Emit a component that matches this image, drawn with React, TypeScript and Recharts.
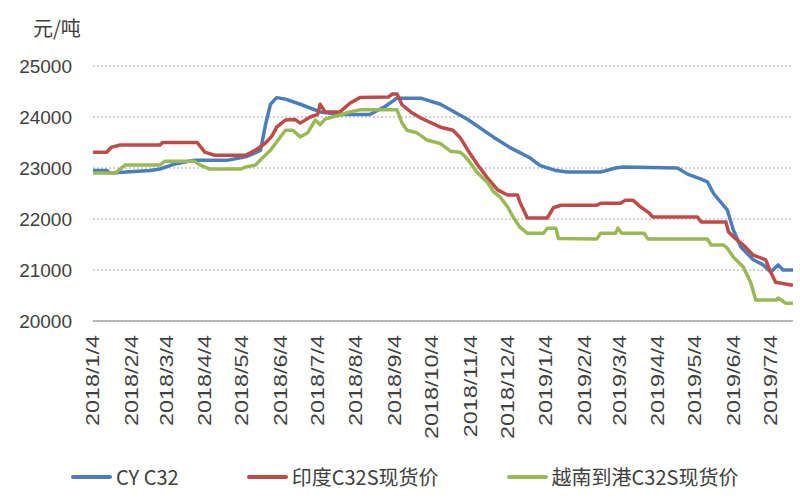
import React from "react";
import { LineChart, Line, XAxis, YAxis, CartesianGrid, Legend } from "recharts";

const tickLabels = ["2018/1/4","2018/2/4","2018/3/4","2018/4/4","2018/5/4","2018/6/4","2018/7/4","2018/8/4","2018/9/4","2018/10/4","2018/11/4","2018/12/4","2019/1/4","2019/2/4","2019/3/4","2019/4/4","2019/5/4","2019/6/4","2019/7/4"];
const yTicks = [20000, 21000, 22000, 23000, 24000, 25000];
const endDate = "2019/7/22";

const cyDates = ["2018/1/4","2018/1/15","2018/1/18","2018/2/19","2018/2/27","2018/3/11","2018/3/26","2018/4/22","2018/5/7","2018/5/15","2018/5/19","2018/5/23","2018/5/27","2018/6/1","2018/6/8","2018/6/20","2018/7/6","2018/7/22","2018/8/15","2018/8/27","2018/9/6","2018/9/25","2018/10/11","2018/11/2","2018/11/23","2018/12/6","2018/12/22","2018/12/30","2019/1/12","2019/1/21","2019/2/17","2019/3/1","2019/3/7","2019/4/20","2019/4/28","2019/5/9","2019/5/14","2019/5/19","2019/5/30","2019/6/4","2019/6/10","2019/6/20","2019/6/28","2019/7/4","2019/7/10","2019/7/14","2019/7/22"];
const cyPrices = [22950,22950,22900,22950,22980,23080,23150,23150,23220,23300,23350,23850,24250,24380,24350,24250,24100,24050,24050,24200,24370,24370,24250,23950,23600,23400,23200,23050,22950,22920,22920,23000,23020,23000,22880,22780,22730,22500,22180,21780,21450,21200,21100,20960,21100,21000,21000];

const indiaDates = ["2018/1/4","2018/1/15","2018/1/19","2018/1/26","2018/2/27","2018/3/1","2018/3/29","2018/4/4","2018/4/12","2018/5/7","2018/5/15","2018/5/23","2018/5/28","2018/6/1","2018/6/8","2018/6/16","2018/6/20","2018/6/28","2018/7/4","2018/7/6","2018/7/10","2018/7/22","2018/7/30","2018/8/7","2018/8/30","2018/9/2","2018/9/6","2018/9/10","2018/9/17","2018/9/25","2018/10/11","2018/10/21","2018/10/27","2018/11/2","2018/11/10","2018/11/18","2018/11/26","2018/12/4","2018/12/12","2018/12/14","2018/12/20","2019/1/5","2019/1/10","2019/1/16","2019/2/14","2019/2/17","2019/3/5","2019/3/9","2019/3/15","2019/3/21","2019/3/28","2019/3/31","2019/5/6","2019/5/9","2019/5/29","2019/5/31","2019/6/4","2019/6/12","2019/6/20","2019/6/30","2019/7/4","2019/7/8","2019/7/22"];
const indiaPrices = [23310,23310,23410,23450,23450,23500,23500,23310,23250,23250,23350,23490,23620,23800,23940,23950,23880,24000,24050,24250,24100,24100,24270,24380,24390,24450,24450,24240,24100,23980,23800,23740,23590,23350,23060,22800,22570,22470,22470,22330,22020,22020,22220,22270,22270,22310,22310,22370,22370,22240,22120,22040,22040,21940,21940,21750,21650,21490,21290,21200,20960,20760,20700];

const vietDates = ["2018/1/4","2018/1/22","2018/1/30","2018/2/27","2018/3/3","2018/3/27","2018/3/31","2018/4/8","2018/5/3","2018/5/7","2018/5/15","2018/5/19","2018/5/27","2018/6/1","2018/6/8","2018/6/14","2018/6/20","2018/6/26","2018/7/2","2018/7/6","2018/7/10","2018/7/22","2018/7/30","2018/8/7","2018/9/6","2018/9/10","2018/9/14","2018/9/22","2018/9/30","2018/10/11","2018/10/19","2018/10/27","2018/10/31","2018/11/4","2018/11/10","2018/11/18","2018/11/23","2018/11/28","2018/12/4","2018/12/9","2018/12/14","2018/12/20","2019/1/2","2019/1/5","2019/1/12","2019/1/14","2019/2/14","2019/2/17","2019/3/1","2019/3/3","2019/3/6","2019/3/24","2019/3/27","2019/5/14","2019/5/17","2019/5/27","2019/5/30","2019/6/4","2019/6/12","2019/6/18","2019/6/22","2019/7/8","2019/7/10","2019/7/16","2019/7/22"];
const vietPrices = [22900,22900,23060,23060,23130,23130,23060,22980,22980,23020,23060,23160,23350,23510,23740,23740,23610,23690,23940,23850,23960,24040,24100,24140,24140,23880,23740,23690,23550,23480,23330,23310,23220,23100,22900,22710,22530,22430,22240,22020,21840,21720,21720,21820,21820,21620,21610,21720,21720,21820,21720,21720,21610,21610,21490,21490,21430,21250,21060,20750,20410,20410,20450,20350,20350];

const seriesNames = ["CY C32", "印度C32S现货价", "越南到港C32S现货价"];
const seriesColors = ["#4a7ebb", "#be4b48", "#98b954"];
const unitLabel = "元/吨";

const toDay = (s: string) => {
  const [y, m, d] = s.split("/").map(Number);
  const [by, bm, bd] = tickLabels[0].split("/").map(Number);
  return Math.round((Date.UTC(y, m - 1, d) - Date.UTC(by, bm - 1, bd)) / 86400000);
};

const build = (dates: string[], vals: number[]) => dates.map((d, i) => ({ t: toDay(d), v: vals[i] }));

const cyData = build(cyDates, cyPrices);
const indiaData = build(indiaDates, indiaPrices);
const vietData = build(vietDates, vietPrices);
const xTicks = tickLabels.map(toDay);
const labelByDay: Record<number, string> = {};
tickLabels.forEach((l) => (labelByDay[toDay(l)] = l));

const XTick = (props: any) => {
  const { x, y, payload } = props;
  return (
    <g transform={`translate(${x},${y + 14}) rotate(-90) scale(1.3,1)`}>
      <text x={0} y={0} dy="0.35em" textAnchor="end" fontSize={18} fill="#404040" fontFamily="'Liberation Sans', Arial, sans-serif">
        {labelByDay[payload.value]}
      </text>
    </g>
  );
};

const YTick = (props: any) => {
  const { x, y, payload } = props;
  return (
    <text x={x} y={y} dy="0.35em" textAnchor="end" fontSize={19} fill="#404040" fontFamily="'Liberation Sans', Arial, sans-serif">
      {payload.value}
    </text>
  );
};

const LegendContent = () => (
  <div style={{ display: "flex", alignItems: "center", gap: 68, fontFamily: "'Noto Sans CJK SC', sans-serif", fontSize: 20, color: "#404040", lineHeight: "26px" }}>
    {seriesNames.map((n, i) => (
      <div key={n} style={{ display: "flex", alignItems: "center" }}>
        <span style={{ display: "inline-block", width: 41, height: 4, borderRadius: 2, background: seriesColors[i], marginRight: 4 }} />
        <span>{n}</span>
      </div>
    ))}
  </div>
);

export default function App() {
  return (
    <div style={{ position: "absolute", left: 0, top: 0, width: 800, height: 500, background: "#fff" }}>
      <div style={{ position: "absolute", left: 33, top: 13, fontFamily: "'Noto Sans CJK SC', sans-serif", fontSize: 20, color: "#404040", zIndex: 2 }}>
        {unitLabel}
      </div>
      <LineChart width={800} height={500} margin={{ top: 66, right: 7, bottom: 79, left: 0 }}>
        <CartesianGrid vertical={false} stroke="#a6a6a6" strokeDasharray="2 2" />
        <XAxis
          type="number"
          dataKey="t"
          domain={[0, toDay(endDate)]}
          ticks={xTicks}
          interval={0}
          height={100}
          tickSize={0}
          tickMargin={0}
          tickLine={false}
          axisLine={{ stroke: "#a6a6a6", strokeWidth: 1.5 }}
          tick={<XTick />}
          allowDataOverflow
        />
        <YAxis
          width={93}
          domain={[20000, 25000]}
          ticks={yTicks}
          interval={0}
          axisLine={false}
          tickLine={false}
          tickSize={0}
          tickMargin={21}
          tick={<YTick />}
        />
        <Legend
          verticalAlign="middle"
          align="center"
          content={<LegendContent />}
          wrapperStyle={{ left: 71, top: 464, width: 720, height: 26 }}
        />
        <Line data={cyData} dataKey="v" name={seriesNames[0]} type="linear" stroke={seriesColors[0]} strokeWidth={3.5} dot={false} isAnimationActive={false} strokeLinejoin="round" />
        <Line data={indiaData} dataKey="v" name={seriesNames[1]} type="linear" stroke={seriesColors[1]} strokeWidth={3.5} dot={false} isAnimationActive={false} strokeLinejoin="round" />
        <Line data={vietData} dataKey="v" name={seriesNames[2]} type="linear" stroke={seriesColors[2]} strokeWidth={3.5} dot={false} isAnimationActive={false} strokeLinejoin="round" />
      </LineChart>
    </div>
  );
}
